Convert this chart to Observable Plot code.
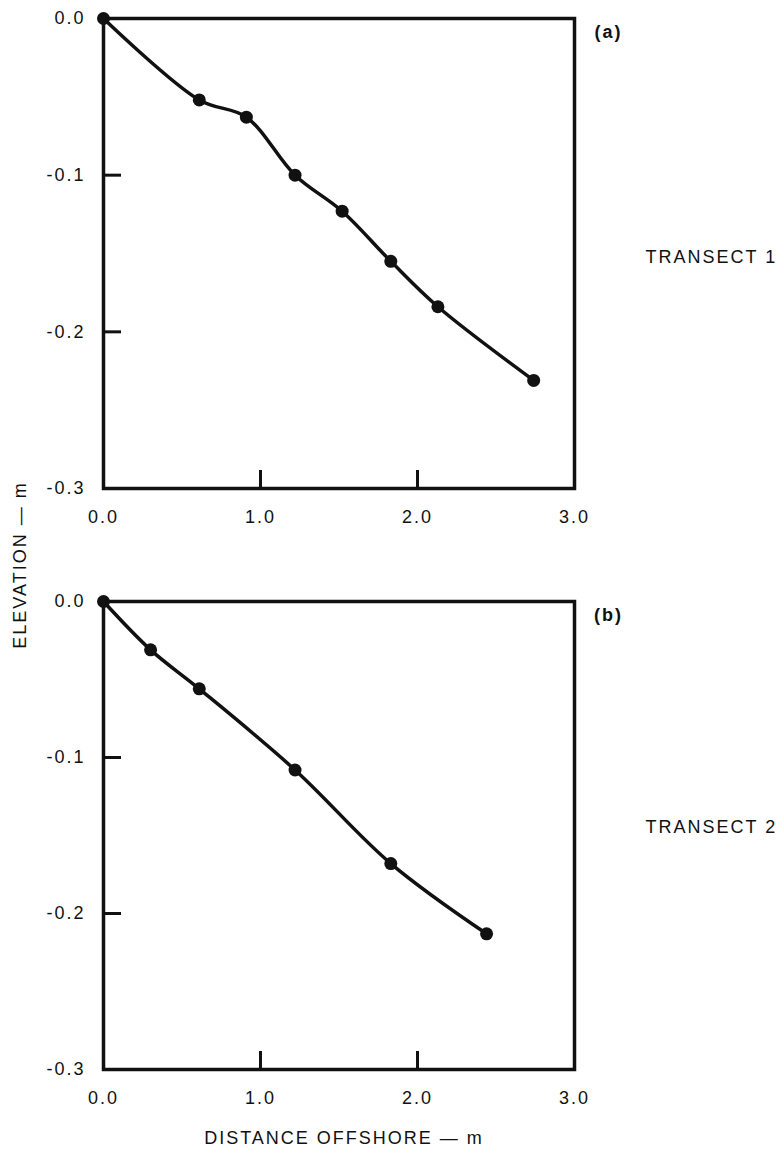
<!DOCTYPE html>
<html>
<head>
<meta charset="utf-8">
<script src="https://cdn.jsdelivr.net/npm/d3@7"></script>
<script src="https://cdn.jsdelivr.net/npm/@observablehq/plot@0.6"></script>
<style>
  body { margin: 0; background: #fff; }
  #wrap { position: relative; width: 784px; height: 1153px; background: #fff;
          font-family: "Liberation Sans", Arial, Helvetica, sans-serif; color: #111; }
  .panel { position: absolute; left: 0; }
  .title { position: absolute; font-size: 18px; letter-spacing: 2px; white-space: nowrap; line-height: 1; }
</style>
</head>
<body>
<div id="wrap"></div>
<script>
// Transect 1 (panel a)
const distA = [0, 0.61, 0.91, 1.22, 1.52, 1.83, 2.13, 2.74];
const elevA = [0, -0.052, -0.063, -0.100, -0.123, -0.155, -0.184, -0.231];
// Transect 2 (panel b)
const distB = [0, 0.30, 0.61, 1.22, 1.83, 2.44];
const elevB = [0, -0.031, -0.056, -0.108, -0.168, -0.213];

const xTicks = [0, 1, 2, 3];
const yTicks = [0, -0.1, -0.2, -0.3];
const innerXTicks = [1, 2];
const innerYTicks = [-0.1, -0.2];
const panelLabels = ["(a)", "(b)"];
const transectLabels = ["TRANSECT 1", "TRANSECT 2"];
const xTitle = "DISTANCE OFFSHORE \u2014 m";
const yTitle = "ELEVATION \u2014 m";

const ink = "#111";
const W = 784;
const mL = 103, mR = 210, mT = 18, mB = 42;

function panel(dist, elev, label, transect, height, transectDy) {
  const rows = dist.map((d, i) => ({x: d, y: elev[i]}));
  const innerH = height - mT - mB;
  const innerW = W - mL - mR;
  const fmt = d => d3.format(".1f")(d).replace("\u2212", "-");
  return Plot.plot({
    width: W, height,
    marginLeft: mL, marginRight: mR, marginTop: mT, marginBottom: mB,
    style: {fontFamily: "Liberation Sans, Arial, Helvetica, sans-serif", fontSize: "18px", letterSpacing: "2px", color: ink, background: "#fff"},
    x: {domain: [0, 3]},
    y: {domain: [-0.3, 0]},
    marks: [
      Plot.axisX({ticks: xTicks, tickSize: 0, tickPadding: 22, tickFormat: fmt, label: null, fontSize: 18}),
      Plot.axisY({ticks: yTicks, tickSize: 0, tickPadding: 18, tickFormat: fmt, label: null, fontSize: 18}),
      Plot.tickX(innerXTicks, {x: d => d, stroke: ink, strokeWidth: 3, insetTop: innerH - 18}),
      Plot.tickY(innerYTicks, {y: d => d, stroke: ink, strokeWidth: 3, insetRight: innerW - 18}),
      Plot.frame({stroke: ink, strokeWidth: 3.5}),
      Plot.line(rows, {x: "x", y: "y", curve: "catmull-rom", stroke: ink, strokeWidth: 3.5}),
      Plot.dot(rows, {x: "x", y: "y", r: 6.5, fill: ink}),
      Plot.text([label], {text: d => d, frameAnchor: "top-right", lineAnchor: "middle", dx: 34, dy: 14, textAnchor: "middle", fontWeight: "bold", fontSize: 18, fill: ink}),
      Plot.text([transect], {text: d => d, frameAnchor: "right", lineAnchor: "middle", dx: 71, dy: transectDy, textAnchor: "start", fontSize: 18, fill: ink})
    ]
  });
}

const wrap = document.getElementById("wrap");

const a = panel(distA, elevA, panelLabels[0], transectLabels[0], 530, 4);
a.classList.add("panel");
a.style.top = "0px";
wrap.appendChild(a);

const b = panel(distB, elevB, panelLabels[1], transectLabels[1], 528, -8);
b.classList.add("panel");
b.style.top = "583px";
wrap.appendChild(b);

const xt = document.createElement("div");
xt.className = "title";
xt.textContent = xTitle;
xt.style.left = "344px";
xt.style.top = "1138px";
xt.style.transform = "translate(-50%, -50%)";
wrap.appendChild(xt);

const yt = document.createElement("div");
yt.className = "title";
yt.textContent = yTitle;
yt.style.left = "20px";
yt.style.top = "565px";
yt.style.transform = "translate(-50%, -50%) rotate(-90deg)";
wrap.appendChild(yt);
</script>
</body>
</html>
